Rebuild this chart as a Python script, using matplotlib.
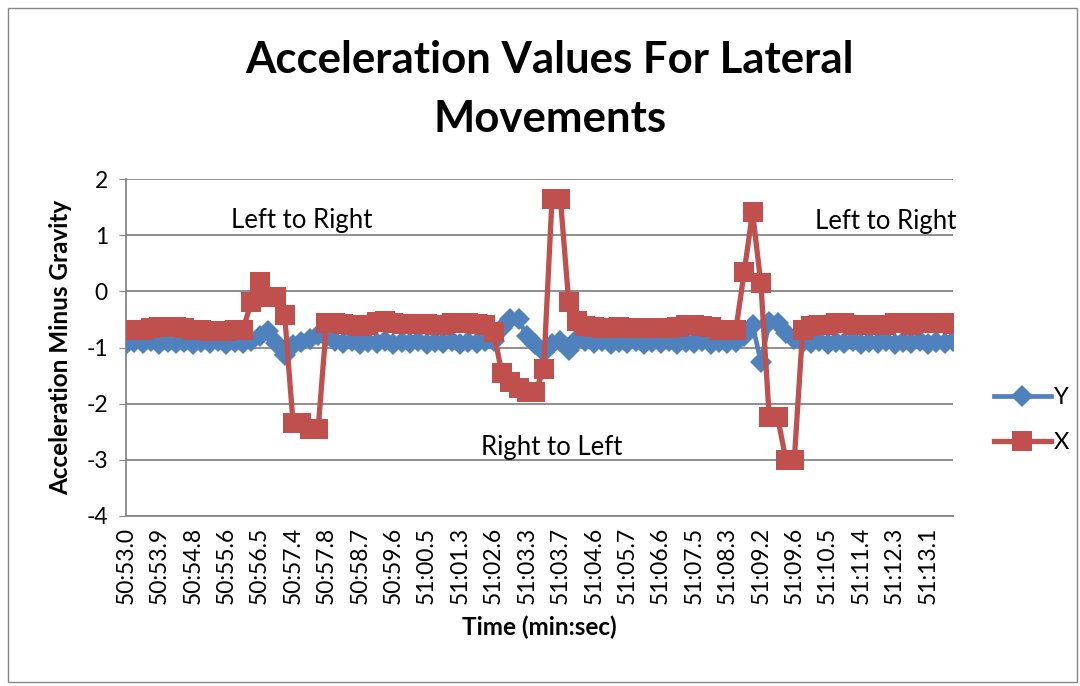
import matplotlib
matplotlib.use("Agg")
import matplotlib.pyplot as plt
from matplotlib.patches import Rectangle

plt.rcParams["font.family"] = ["Lato", "DejaVu Sans"]
plt.rcParams["axes.unicode_minus"] = False

BLUE = "#4F81BD"
RED = "#C0504D"
GRID = "#868686"

# tick labels shown on the category axis (every 4th sample)
tick_labels = [
    "50:53.0", "50:53.9", "50:54.8", "50:55.6", "50:56.5", "50:57.4", "50:57.8",
    "50:58.7", "50:59.6", "51:00.5", "51:01.3", "51:02.6", "51:03.3", "51:03.7",
    "51:04.6", "51:05.7", "51:06.6", "51:07.5", "51:08.3", "51:09.2", "51:09.6",
    "51:10.5", "51:11.4", "51:12.3", "51:13.1",
]

y_vals = [
    -0.93, -0.90, -0.92, -0.89, -0.93, -0.90, -0.92, -0.90, -0.93, -0.90,
    -0.92, -0.89, -0.93, -0.90, -0.92,
    -0.88, -0.80, -0.70, -0.92, -1.13, -0.95, -0.90, -0.85, -0.78, -0.82, -0.88,
    -0.92, -0.89, -0.93, -0.90, -0.92, -0.89, -0.93, -0.90, -0.92, -0.89,
    -0.93, -0.90, -0.92, -0.89, -0.93, -0.90, -0.92, -0.89,
    -0.88, -0.65, -0.50, -0.50, -0.80, -0.93, -1.08, -0.93, -0.88, -1.05, -0.85, -0.88,
    -0.92, -0.89, -0.93, -0.90, -0.92, -0.89, -0.93, -0.90, -0.92, -0.89,
    -0.93, -0.90, -0.92, -0.89, -0.93, -0.90, -0.92,
    -0.90, -0.80, -0.60, -1.25, -0.55, -0.57, -0.75, -0.85, -0.90,
    -0.92, -0.89, -0.93, -0.90, -0.92, -0.89, -0.93, -0.90, -0.92, -0.89,
    -0.93, -0.90, -0.92, -0.89, -0.93, -0.90, -0.92, -0.89,
]

x_vals = [
    -0.68, -0.68, -0.68, -0.66, -0.64, -0.64, -0.64, -0.66, -0.68, -0.68,
    -0.71, -0.71, -0.71, -0.68, -0.68,
    -0.19, 0.17, -0.10, -0.10, -0.43, -2.35, -2.35, -2.45, -2.45, -0.57,
    -0.57, -0.58, -0.60, -0.61, -0.60, -0.55, -0.53, -0.56, -0.58, -0.58,
    -0.58, -0.58, -0.60, -0.60, -0.57, -0.57, -0.57, -0.58, -0.60,
    -0.72, -1.46, -1.62, -1.72, -1.80, -1.80, -1.38, 1.65, 1.65, -0.19, -0.52, -0.62,
    -0.64, -0.65, -0.65, -0.64, -0.65, -0.65, -0.65, -0.66, -0.65, -0.65,
    -0.64, -0.60, -0.60, -0.62, -0.64, -0.68, -0.69, -0.69,
    0.34, 1.41, 0.14, -2.24, -2.24, -3.00, -3.00, -0.69,
    -0.62, -0.60, -0.60, -0.56, -0.56, -0.60, -0.60, -0.60, -0.60, -0.60,
    -0.56, -0.56, -0.60, -0.57, -0.56, -0.57, -0.57, -0.58,
]

idx = list(range(len(x_vals)))

fig = plt.figure(figsize=(10.8, 6.86), dpi=100)
ax = fig.add_axes([126 / 1080, 1 - 516 / 686, (953 - 126) / 1080, (516 - 179) / 686])

ax.plot(idx, y_vals, color=BLUE, linewidth=3.4, marker="D", markersize=11,
        markeredgewidth=0, label="Y", zorder=3)
ax.plot(idx, x_vals, color=RED, linewidth=3.8, marker="s", markersize=14,
        markeredgewidth=0, label="X", zorder=4)

ax.set_xlim(0, len(x_vals) - 1)
ax.set_ylim(-4, 2)
ax.set_yticks(range(-4, 3))
ax.set_xticks(range(0, len(x_vals), 4))
ax.set_xticklabels(tick_labels, rotation=90, fontsize=16.5)
ax.tick_params(axis="y", labelsize=16.5, length=5, color=GRID, pad=8)
ax.tick_params(axis="x", length=0, pad=8)
ax.yaxis.grid(True, color=GRID, linewidth=1.3)
ax.set_axisbelow(True)
for side in ["top", "right"]:
    ax.spines[side].set_visible(False)
for side in ["left", "bottom"]:
    ax.spines[side].set_color(GRID)
    ax.spines[side].set_linewidth(1.3)

ax.set_ylabel("Acceleration Minus Gravity", fontsize=17.5, fontweight="bold", labelpad=10)
ax.set_xlabel("Time (min:sec)", fontsize=17.5, fontweight="bold", labelpad=8)

fig.text(0.509, 0.870, "Acceleration Values For Lateral\nMovements", ha="center",
         va="center", fontsize=31.5, fontweight="bold", linespacing=1.58)

ax.text(21, 1.26, "Left to Right", ha="center", va="center", fontsize=18.5)
ax.text(51, -2.78, "Right to Left", ha="center", va="center", fontsize=18.5)
ax.text(90.9, 1.25, "Left to Right", ha="center", va="center", fontsize=18.5)

fig.legend(loc="center left", bbox_to_anchor=(994 / 1080, 1 - 420 / 686),
           frameon=False, fontsize=17, handlelength=2.4, handletextpad=0.15,
           labelspacing=1.0, borderpad=0, borderaxespad=0)

fig.patches.append(Rectangle((0.007, 0.006), 0.99, 0.982, transform=fig.transFigure,
                             fill=False, edgecolor=GRID, linewidth=1.0))

fig.savefig("out.png", dpi=100)
